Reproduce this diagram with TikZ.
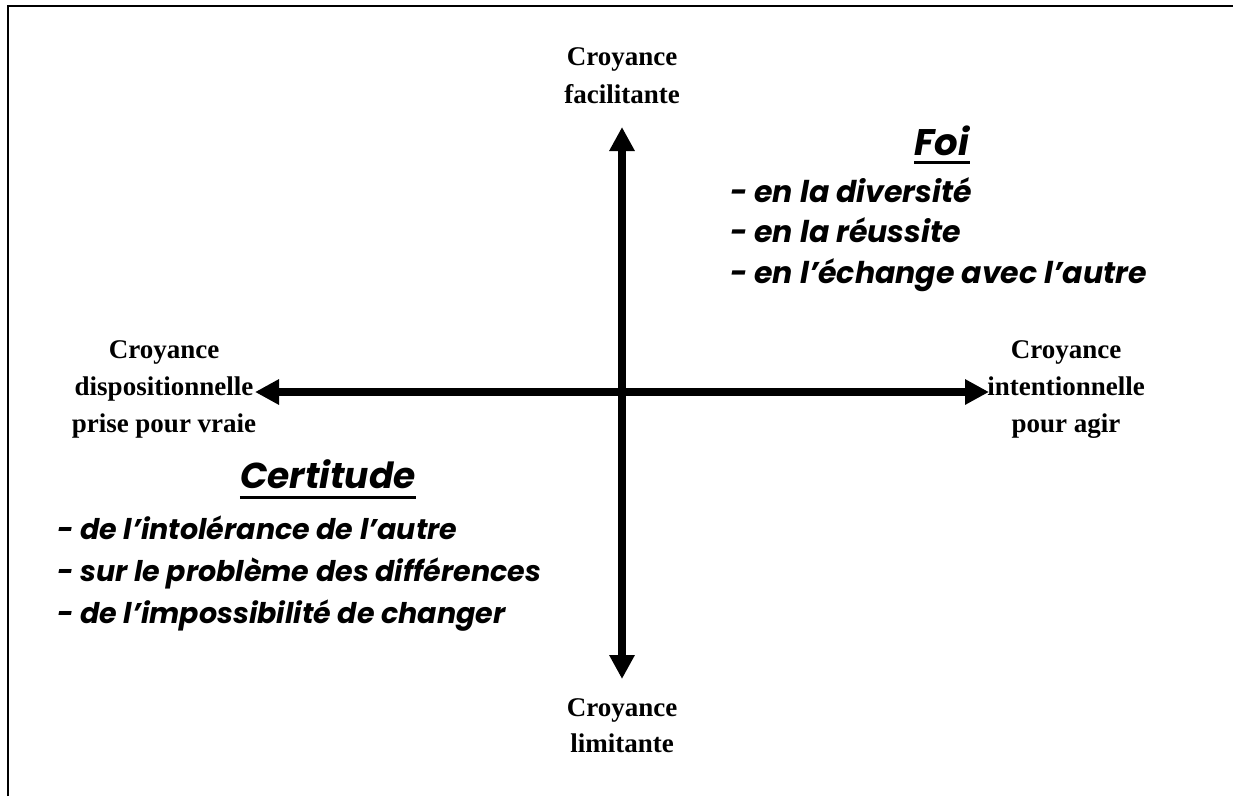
\documentclass[tikz,border=0pt]{standalone}
\usepackage{fontspec}
\setmainfont{Liberation Serif}
\newfontfamily\comic{Poppins}
\usetikzlibrary{arrows.meta}
\begin{document}
\begin{tikzpicture}[x=1pt,y=-1pt,
  lab/.style={font=\fontsize{27}{37}\selectfont\bfseries, align=center, inner sep=0pt, anchor=base},
  head/.style={font=\comic\fontsize{36}{40}\selectfont\bfseries\itshape, inner sep=0pt, anchor=base},
  item/.style={inner sep=0pt, anchor=base west, align=left},
  axis/.style={line width=8pt, {Triangle[length=24pt,width=24pt]}-{Triangle[length=24pt,width=24pt]}},
  frame/.style={line width=2.5pt},
  uline/.style={line width=3pt}]
\useasboundingbox (0,0) rectangle (1233,796);
\draw[frame] (8,796) -- (8,6) -- (1233,6);

\coordinate (up) at (622,127);
\coordinate (down) at (622,679);
\coordinate (west) at (255,392);
\coordinate (east) at (989,392);
\draw[axis] (down) -- (up);
\draw[axis] (west) -- (east);

\node[lab, font=\fontsize{27}{38}\selectfont\bfseries] (ltop) at (622,103) {Croyance\\facilitante};
\node[lab] (lleft) at (164,432) {Croyance\\dispositionnelle\\prise pour vraie};
\node[lab] (lright) at (1066,432) {Croyance\\intentionnelle\\pour agir};
\node[lab, font=\fontsize{27}{36}\selectfont\bfseries] (lbot) at (622,752) {Croyance\\limitante};

\node[head, font=\comic\fontsize{37}{40}\selectfont\bfseries\itshape] (foi) at (942,155) {Foi};
\draw[uline] ([yshift=-7pt]foi.base west) -- ([yshift=-7pt]foi.base east);
\node[item, font=\comic\fontsize{30}{40.5}\selectfont\bfseries\itshape] (foilist) at (730,283) {- en la diversité\\- en la réussite\\- en l’échange avec l’autre};

\node[head] (cert) at (328,488) {Certitude};
\draw[uline] ([yshift=-9pt]cert.base west) -- ([yshift=-9pt]cert.base east);
\node[item, font=\comic\fontsize{28.5}{42}\selectfont\bfseries\itshape] (certlist) at (57,623) {- de l’intolérance de l’autre\\- sur le problème des différences\\- de l’impossibilité de changer};
\end{tikzpicture}
\end{document}
